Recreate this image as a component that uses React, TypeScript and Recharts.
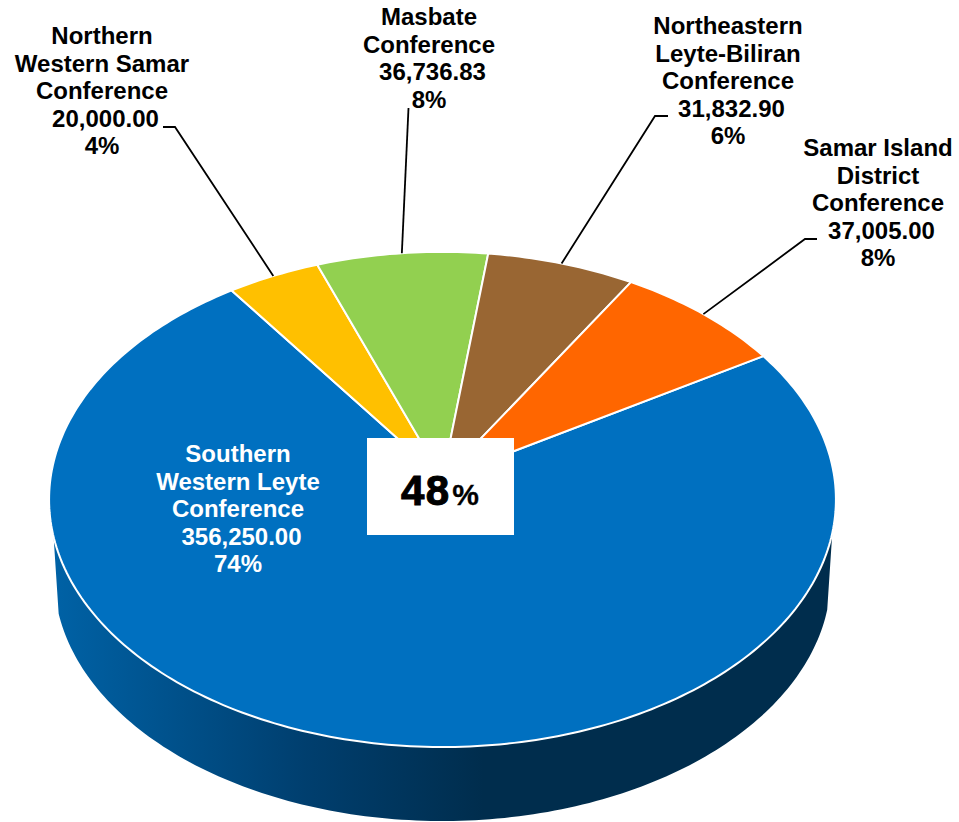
import React from "react";
import { PieChart, Pie, Cell } from "recharts";

const conferences = [
  ["Southern", "Western Leyte", "Conference"],
  ["Northern", "Western Samar", "Conference"],
  ["Masbate", "Conference"],
  ["Northeastern", "Leyte-Biliran", "Conference"],
  ["Samar Island", "District", "Conference"],
];
const amounts = [356250.0, 20000.0, 36736.83, 31832.9, 37005.0];
const shares = ["74%", "4%", "8%", "6%", "8%"];
const colors = ["#0070C0", "#FFC000", "#92D050", "#996633", "#FF6600"];
const centerValue = "48";

const chartData = conferences.map((lines, i) => ({
  name: lines.join(" "),
  value: amounts[i],
}));

// where each label block sits and how its leader line bends
const labelLayout = [
  { x: 238, y: 462, fill: "#FFFFFF", leader: null },
  { x: 102, y: 44, fill: "#000000", leader: [[163, 127], [175, 127]] },
  { x: 429, y: 25, fill: "#000000", leader: [[408.5, 108]] },
  { x: 728, y: 34, fill: "#000000", leader: [[668, 116], [655, 116]] },
  { x: 878, y: 156, fill: "#000000", leader: [[817, 239], [805, 239]] },
];

const WIDTH = 959;
const HEIGHT = 822;
const CX = 442.5;
const CY = 478.4;
const RADIUS = 392;
const TILT = 0.627; // vertical squash of the disc
const PERSPECTIVE = 0.085; // front of the disc is nearer than the back
const DEPTH = 77.5; // wall height
const BOTTOM_SCALE = 0.987;
const FONT = "'Liberation Sans', Arial, sans-serif";

// angle on the flat pie -> point on the tilted disc
const project = (deg: number, cx: number, cy: number, r: number) => {
  const rad = (deg * Math.PI) / 180;
  const c = Math.cos(rad);
  const s = -Math.sin(rad);
  const w = 1 - PERSPECTIVE * s;
  return { x: cx + (r * c) / w, y: cy + (r * TILT * s) / w };
};

const arcPoints = (
  from: number,
  to: number,
  cx: number,
  cy: number,
  r: number
) => {
  const steps = Math.max(2, Math.ceil(Math.abs(to - from)));
  const pts = [];
  for (let i = 0; i <= steps; i++) {
    const p = project(from + ((to - from) * i) / steps, cx, cy, r);
    pts.push(`${p.x.toFixed(2)} ${p.y.toFixed(2)}`);
  }
  return pts;
};

const TiltedSector = (props: any) => {
  const { cx, cy, outerRadius, startAngle, endAngle, fill, index } = props;
  const top = arcPoints(startAngle, endAngle, cx, cy, outerRadius);
  const face = `M ${cx} ${cy} L ${top.join(" L ")} Z`;
  // only the big slice shows a wall towards the viewer
  let wall = null;
  if (index === 0) {
    const upper = arcPoints(-12.6, -166.5, cx, cy, outerRadius);
    const lower = arcPoints(
      -166.5,
      -12.6,
      cx,
      cy + DEPTH,
      outerRadius * BOTTOM_SCALE
    );
    wall = (
      <path d={`M ${upper.join(" L ")} L ${lower.join(" L ")} Z`} fill="url(#wallFill)" />
    );
  }
  return (
    <g>
      {wall}
      <path d={face} fill={fill} stroke="#FFFFFF" strokeWidth={2} strokeLinejoin="round" />
    </g>
  );
};

const SliceLabel = (props: any) => {
  const { index, midAngle, cx, cy, outerRadius } = props;
  const layout = labelLayout[index];
  const lines = conferences[index];
  const amount = amounts[index].toLocaleString("en-US", {
    minimumFractionDigits: 2,
    maximumFractionDigits: 2,
  });
  let leader = null;
  if (layout.leader) {
    const end = project(midAngle, cx, cy, outerRadius);
    const pts = layout.leader.map((p) => p.join(",")).join(" ");
    leader = (
      <polyline
        points={`${pts} ${end.x},${end.y}`}
        fill="none"
        stroke="#000000"
        strokeWidth={1.8}
      />
    );
  }
  const step = 27.6;
  return (
    <g>
      {leader}
      <text
        textAnchor="middle"
        fontFamily={FONT}
        fontWeight="bold"
        fontSize={24}
        fill={layout.fill}
      >
        {lines.map((line, i) => (
          <tspan key={i} x={layout.x} y={layout.y + i * step}>
            {line}
          </tspan>
        ))}
        <tspan x={layout.x + 3.5} y={layout.y + lines.length * step}>
          {amount}
        </tspan>
        <tspan x={layout.x} y={layout.y + (lines.length + 1) * step}>
          {shares[index]}
        </tspan>
      </text>
    </g>
  );
};

export default function App() {
  return (
    <div style={{ position: "absolute", left: 0, top: 0, width: WIDTH, height: HEIGHT }}>
      <PieChart
        width={WIDTH}
        height={HEIGHT}
        margin={{ top: 0, right: 0, bottom: 0, left: 0 }}
      >
        <defs>
          <linearGradient
            id="wallFill"
            gradientUnits="userSpaceOnUse"
            x1={52}
            y1={0}
            x2={836}
            y2={0}
          >
            <stop offset="0" stopColor="#0062A6" />
            <stop offset="0.32" stopColor="#003F6F" />
            <stop offset="0.55" stopColor="#002D4D" />
            <stop offset="1" stopColor="#002D4D" />
          </linearGradient>
        </defs>
        <Pie
          data={chartData}
          dataKey="value"
          nameKey="name"
          cx={CX}
          cy={CY}
          outerRadius={RADIUS}
          startAngle={31.3}
          endAngle={-328.7}
          shape={TiltedSector}
          label={SliceLabel}
          labelLine={false}
          isAnimationActive={false}
        >
          {chartData.map((d, i) => (
            <Cell key={d.name} fill={colors[i]} />
          ))}
        </Pie>
      </PieChart>
      {/* white text box sitting on the middle of the pie */}
      <svg
        width={147}
        height={97}
        style={{ position: "absolute", left: 367, top: 438, background: "#FFFFFF" }}
      >
        <text x={34} y={67} fontFamily={FONT} fontWeight="bold" fill="#000000">
          <tspan fontSize={42} letterSpacing={1.5} stroke="#000000" strokeWidth={1}>
            {centerValue}
          </tspan>
          <tspan fontSize={30} dx={1.5} stroke="#000000" strokeWidth={0.3}>
            %
          </tspan>
        </text>
      </svg>
    </div>
  );
}
